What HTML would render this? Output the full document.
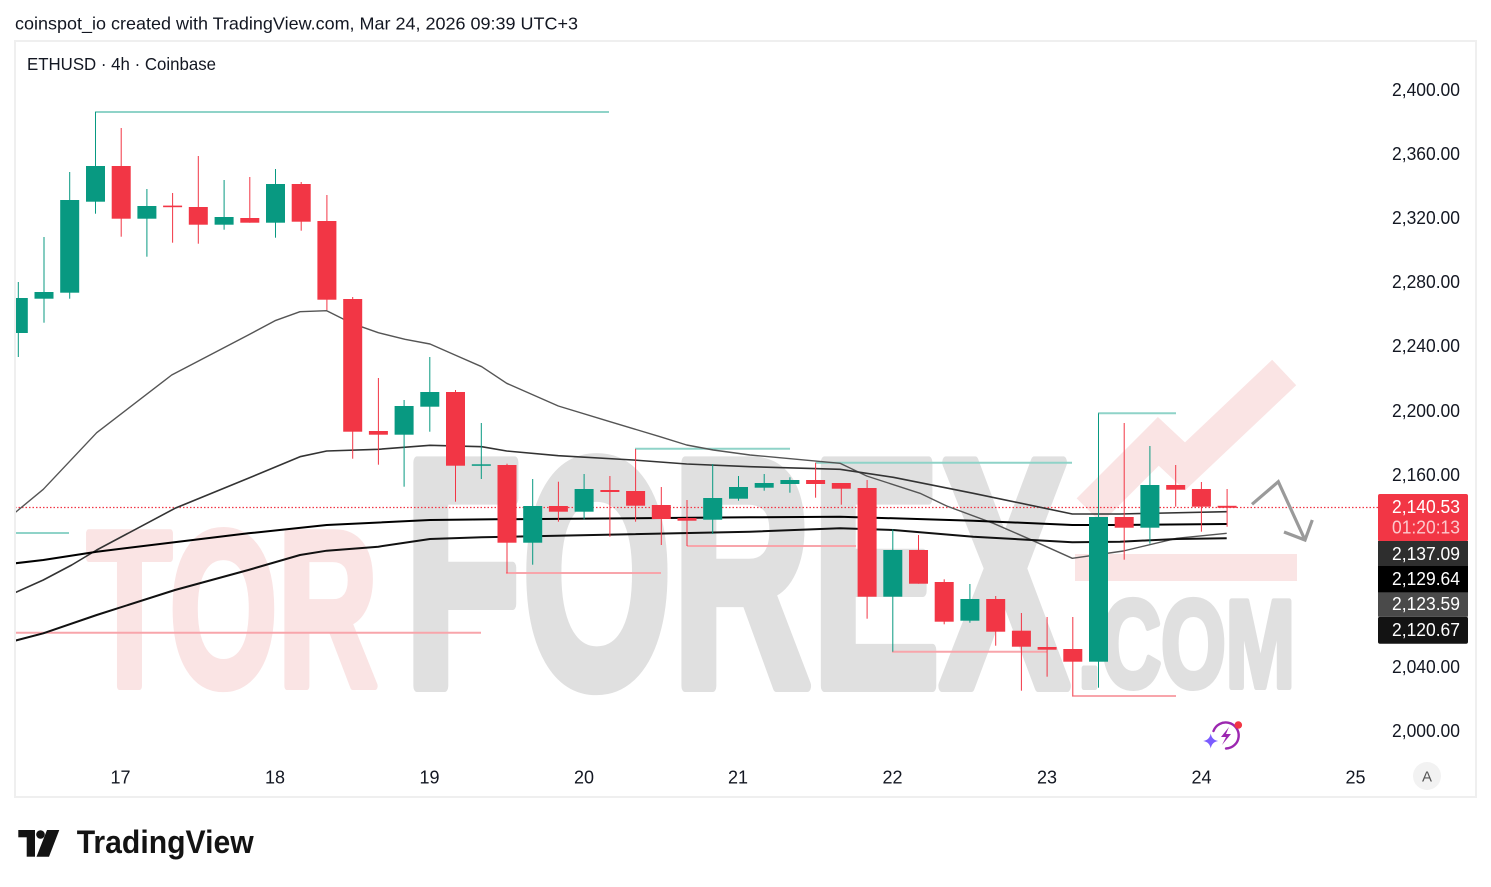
<!DOCTYPE html>
<html><head><meta charset="utf-8"><style>
html,body{margin:0;padding:0;background:#fff;}
svg{display:block;}
text{font-family:"Liberation Sans",Arial,sans-serif;}
</style></head><body>
<svg width="1491" height="887" viewBox="0 0 1491 887" xmlns="http://www.w3.org/2000/svg">
<rect x="0" y="0" width="1491" height="887" fill="#fff"/>
<text x="15" y="29.3" font-size="17.5" fill="#131722" textLength="563" lengthAdjust="spacingAndGlyphs">coinspot_io created with TradingView.com, Mar 24, 2026 09:39 UTC+3</text>
<rect x="15" y="41" width="1461" height="756" fill="#fff" stroke="#efefef" stroke-width="2"/>
<text x="27" y="70" font-size="17.5" fill="#131722" textLength="189" lengthAdjust="spacingAndGlyphs">ETHUSD · 4h · Coinbase</text>

<defs><clipPath id="cp"><rect x="16" y="42" width="1362" height="712"/></clipPath></defs>
<g clip-path="url(#cp)">
<!-- watermark -->
<text x="87" y="686" font-size="222" font-weight="bold" fill="#fae4e4" stroke="#fae4e4" stroke-width="8" stroke-linejoin="round" textLength="291" lengthAdjust="spacingAndGlyphs">TOR</text>
<text x="404" y="686" font-size="325" font-weight="bold" fill="#e0e0e0" stroke="#e0e0e0" stroke-width="12" stroke-linejoin="round" textLength="665" lengthAdjust="spacingAndGlyphs">FOREX</text>
<text x="1078" y="687" font-size="124" font-weight="bold" fill="#e0e0e0" stroke="#e0e0e0" stroke-width="6" stroke-linejoin="round" textLength="217" lengthAdjust="spacingAndGlyphs">.COM</text>
<rect x="1075" y="554" width="222" height="27" fill="#fae4e4"/>
<polyline points="1089,510.7 1158.3,441.4 1185,466.4 1284.2,372.5" fill="none" stroke="#fae4e4" stroke-width="35" stroke-linejoin="miter"/>

<!-- level lines -->
<g stroke-width="2" fill="none">
<line x1="95" y1="112" x2="609" y2="112" stroke="#8fd3c8"/>
<line x1="15" y1="533" x2="69" y2="533" stroke="#8fd3c8"/>
<line x1="15" y1="632.7" x2="481" y2="632.7" stroke="#f8a5ab"/>
<line x1="506" y1="573" x2="661" y2="573" stroke="#f8a5ab"/>
<line x1="635" y1="448.7" x2="790" y2="448.7" stroke="#8fd3c8"/>
<line x1="687" y1="546" x2="856" y2="546" stroke="#f8a5ab"/>
<line x1="815.6" y1="462.7" x2="1072" y2="462.7" stroke="#8fd3c8"/>
<line x1="892" y1="651.7" x2="1047" y2="651.7" stroke="#f8a5ab"/>
<line x1="1098" y1="413.3" x2="1176" y2="413.3" stroke="#8fd3c8"/>
<line x1="1072" y1="696" x2="1176" y2="696" stroke="#f8a5ab"/>
</g>

<!-- dotted price line -->
<line x1="15" y1="507.5" x2="1378" y2="507.5" stroke="#f23645" stroke-width="1.2" stroke-dasharray="1.5 2"/>

<!-- MA lines -->
<g fill="none" stroke-linejoin="round">
<polyline stroke="#555" stroke-width="1.4" points="15,512.7 43.3,489.3 96.7,432.7 171.7,375 248.3,335 275,320.7 300,311.7 326.7,310.7 351.7,323.3 378.3,332.7 405,339.3 430,344 455,355 481.7,366.7 506.7,383.3 558.3,406 610,421.7 660,436.7 686.7,445 713.3,450 750,455 840,463.3 866.7,476 920,493.3 946.7,506 993.3,523.3 1030,539.3 1072.3,558.3 1123.3,551 1176.7,538.3 1226.7,533.3"/>
<polyline stroke="#333" stroke-width="1.6" points="15,592.7 43.3,580 71.7,565 96.7,550 175,508.3 248.3,478.3 300,456.7 326.7,451 378.3,449.3 430,445.3 481.7,446.7 506.7,451 558.3,455.7 633.3,460 686.7,464 750,466.7 840,469.3 893.3,477.3 973.3,493.3 1072.3,514 1120,514 1226.7,511.7"/>
<polyline stroke="#000" stroke-width="2" points="15,563.3 43.3,560 96.7,551.7 248.3,533.3 326.7,525 430,520 495,519.3 750,517.3 840,516.7 973.3,520.7 1072.3,525 1120,525 1226.7,524"/>
<polyline stroke="#111" stroke-width="2" points="15,640.7 43.3,633.3 96.7,615 175,590 248.3,570 300,555 326.7,550.7 378.3,546.7 430,539 481.7,537.3 750,531.7 840,528.3 893.3,530 973.3,536.7 1072.3,542.3 1120,541.7 1176.7,539 1226.7,538.3"/>
</g>

<!-- candles -->
<g fill="#089981">
<rect x="17.8" y="282" width="1" height="75"/><rect x="8.8" y="298" width="19" height="35"/>
<rect x="43.5" y="237" width="1" height="85.7"/><rect x="34.5" y="292" width="19" height="6.7"/>
<rect x="69.2" y="172" width="1" height="126.7"/><rect x="60.2" y="200" width="19" height="92.7"/>
<rect x="95" y="112" width="1" height="101.7"/><rect x="86" y="166" width="19" height="35.7"/>
<rect x="146.4" y="189" width="1" height="67.7"/><rect x="137.4" y="206" width="19" height="12.7"/>
<rect x="223.6" y="180" width="1" height="49.7"/><rect x="214.6" y="217" width="19" height="7.7"/>
<rect x="275" y="169" width="1" height="68.7"/><rect x="266" y="184" width="19" height="38.7"/>
<rect x="403.6" y="400" width="1" height="86.7"/><rect x="394.6" y="406" width="19" height="28.7"/>
<rect x="429.3" y="357" width="1" height="74.7"/><rect x="420.3" y="392" width="19" height="14.7"/>
<rect x="480.8" y="423" width="1" height="56"/><rect x="471.8" y="464.3" width="19" height="1.5"/>
<rect x="532.2" y="479" width="1" height="85.7"/><rect x="523.2" y="506" width="19" height="36.7"/>
<rect x="583.6" y="474" width="1" height="45.3"/><rect x="574.6" y="489" width="19" height="22.7"/>
<rect x="712.2" y="464" width="1" height="70"/><rect x="703.2" y="498" width="19" height="21.7"/>
<rect x="738" y="476" width="1" height="24.7"/><rect x="729" y="487" width="19" height="11.7"/>
<rect x="763.7" y="474" width="1" height="16.7"/><rect x="754.7" y="483" width="19" height="4.7"/>
<rect x="789.4" y="477.3" width="1" height="15.4"/><rect x="780.4" y="480" width="19" height="4"/>
<rect x="892.3" y="529.3" width="1" height="122.4"/><rect x="883.3" y="550" width="19" height="46.7"/>
<rect x="969.4" y="584" width="1" height="38.7"/><rect x="960.4" y="599" width="19" height="21.7"/>
<rect x="1098" y="413.3" width="1" height="274.4"/><rect x="1089" y="517" width="19" height="144.7"/>
<rect x="1149.4" y="446" width="1" height="97.7"/><rect x="1140.4" y="485" width="19" height="42.7"/>
</g>
<g fill="#f23645">
<rect x="120.7" y="128" width="1" height="108.7"/><rect x="111.7" y="166" width="19" height="52.7"/>
<rect x="172.1" y="193" width="1" height="49.7"/><rect x="163.1" y="205.6" width="19" height="1.6"/>
<rect x="197.8" y="156" width="1" height="87.7"/><rect x="188.8" y="207" width="19" height="17.7"/>
<rect x="249.3" y="177" width="1" height="45.7"/><rect x="240.3" y="218" width="19" height="4.7"/>
<rect x="300.7" y="182" width="1" height="48.7"/><rect x="291.7" y="184" width="19" height="37.7"/>
<rect x="326.4" y="195" width="1" height="115"/><rect x="317.4" y="221" width="19" height="78.7"/>
<rect x="352.2" y="297" width="1" height="161.7"/><rect x="343.2" y="299" width="19" height="132.7"/>
<rect x="377.9" y="378" width="1" height="86.7"/><rect x="368.9" y="431" width="19" height="3.7"/>
<rect x="455" y="390" width="1" height="111.7"/><rect x="446" y="392" width="19" height="73.7"/>
<rect x="506.5" y="463.7" width="1" height="109.6"/><rect x="497.5" y="465" width="19" height="77.7"/>
<rect x="557.9" y="481.7" width="1" height="40"/><rect x="548.9" y="506" width="19" height="5.7"/>
<rect x="609.4" y="476" width="1" height="60.7"/><rect x="600.4" y="490" width="19" height="2"/>
<rect x="635.1" y="449" width="1" height="72.7"/><rect x="626.1" y="491" width="19" height="14.7"/>
<rect x="660.8" y="487" width="1" height="58"/><rect x="651.8" y="505" width="19" height="14"/>
<rect x="686.5" y="500" width="1" height="46"/><rect x="677.5" y="518" width="19" height="2.7"/>
<rect x="815.1" y="462.7" width="1" height="35"/><rect x="806.1" y="480" width="19" height="4"/>
<rect x="840.8" y="483" width="1" height="21.7"/><rect x="831.8" y="483" width="19" height="5.7"/>
<rect x="866.6" y="480" width="1" height="138.7"/><rect x="857.6" y="488" width="19" height="108.7"/>
<rect x="918" y="535" width="1" height="48.7"/><rect x="909" y="550" width="19" height="33.7"/>
<rect x="943.7" y="579.3" width="1" height="45"/><rect x="934.7" y="582" width="19" height="39.7"/>
<rect x="995.2" y="596" width="1" height="49.7"/><rect x="986.2" y="599" width="19" height="32.7"/>
<rect x="1020.9" y="613" width="1" height="77.7"/><rect x="1011.9" y="630.7" width="19" height="16"/>
<rect x="1046.6" y="617" width="1" height="59.7"/><rect x="1037.6" y="647" width="19" height="2.7"/>
<rect x="1072.3" y="617" width="1" height="78.7"/><rect x="1063.3" y="649" width="19" height="12.7"/>
<rect x="1123.7" y="423" width="1" height="136.7"/><rect x="1114.7" y="517" width="19" height="10.7"/>
<rect x="1175.2" y="465" width="1" height="41.7"/><rect x="1166.2" y="485" width="19" height="4.7"/>
<rect x="1200.9" y="482" width="1" height="49.7"/><rect x="1191.9" y="489" width="19" height="17.7"/>
<rect x="1226.6" y="489" width="1" height="37.7"/><rect x="1217.6" y="505.8" width="19" height="2"/>
</g>

<!-- grey arrow -->
<g fill="none" stroke="#9a9a9a" stroke-width="3.2" stroke-linecap="butt" stroke-linejoin="miter">
<polyline points="1252,504.3 1278.3,481.7 1305,540"/>
<polyline points="1284,532 1305,540 1312.3,520"/>
</g>

<!-- lightning icon -->
<g>
<path d="M1213.5,731 A13,13 0 1 1 1226,748.5" fill="none" stroke="#9c27b0" stroke-width="2.4" stroke-linecap="round"/>
<path d="M1229,727 L1221,737 L1226,737 L1222,745 L1231,734 L1226,734 Z" fill="#9c27b0"/>
<circle cx="1238.3" cy="725" r="3.8" fill="#f23645"/>
<path d="M1210.7,733.5 Q1211.8,740 1218.2,741 Q1211.8,742 1210.7,748.5 Q1209.6,742 1203.2,741 Q1209.6,740 1210.7,733.5 Z" fill="#7b5cff"/>
</g>
</g>

<!-- y axis labels -->
<g font-size="18" fill="#131722" text-anchor="end">
<text x="1460" y="96" textLength="68" lengthAdjust="spacingAndGlyphs">2,400.00</text>
<text x="1460" y="160" textLength="68" lengthAdjust="spacingAndGlyphs">2,360.00</text>
<text x="1460" y="224" textLength="68" lengthAdjust="spacingAndGlyphs">2,320.00</text>
<text x="1460" y="288" textLength="68" lengthAdjust="spacingAndGlyphs">2,280.00</text>
<text x="1460" y="352" textLength="68" lengthAdjust="spacingAndGlyphs">2,240.00</text>
<text x="1460" y="417" textLength="68" lengthAdjust="spacingAndGlyphs">2,200.00</text>
<text x="1460" y="481" textLength="68" lengthAdjust="spacingAndGlyphs">2,160.00</text>
<text x="1460" y="673" textLength="68" lengthAdjust="spacingAndGlyphs">2,040.00</text>
<text x="1460" y="737" textLength="68" lengthAdjust="spacingAndGlyphs">2,000.00</text>
</g>

<!-- price tags -->
<rect x="1378" y="494" width="90" height="47.5" rx="2" fill="#f23645"/>
<rect x="1378" y="541" width="90" height="25.5" fill="#2e2e2e"/>
<rect x="1378" y="566" width="90" height="26.7" fill="#000"/>
<rect x="1378" y="592.7" width="90" height="24" fill="#4a4a4a"/>
<rect x="1378" y="616.7" width="90" height="27" rx="2" fill="#131313"/>
<g font-size="18" text-anchor="end">
<text x="1460" y="513" fill="#fff" textLength="68" lengthAdjust="spacingAndGlyphs">2,140.53</text>
<text x="1460" y="533.5" fill="#fcc9cd" textLength="68" lengthAdjust="spacingAndGlyphs">01:20:13</text>
<text x="1460" y="560" fill="#fff" textLength="68" lengthAdjust="spacingAndGlyphs">2,137.09</text>
<text x="1460" y="585" fill="#fff" textLength="68" lengthAdjust="spacingAndGlyphs">2,129.64</text>
<text x="1460" y="610" fill="#fff" textLength="68" lengthAdjust="spacingAndGlyphs">2,123.59</text>
<text x="1460" y="636" fill="#fff" textLength="68" lengthAdjust="spacingAndGlyphs">2,120.67</text>
</g>

<!-- x axis labels -->
<g font-size="18" fill="#131722" text-anchor="middle">
<text x="120.5" y="783.5">17</text>
<text x="275" y="783.5">18</text>
<text x="429.5" y="783.5">19</text>
<text x="584" y="783.5">20</text>
<text x="738" y="783.5">21</text>
<text x="892.5" y="783.5">22</text>
<text x="1047" y="783.5">23</text>
<text x="1201.5" y="783.5">24</text>
<text x="1355.5" y="783.5">25</text>
</g>
<circle cx="1427" cy="776" r="14" fill="#f2f2f2"/>
<text x="1427" y="781.5" font-size="15" fill="#555" text-anchor="middle">A</text>

<!-- TradingView logo -->
<g fill="#131313">
<rect x="18.3" y="830" width="16.7" height="7.3"/>
<rect x="26.7" y="830" width="8.3" height="26.7"/>
<circle cx="40.5" cy="834.5" r="4.3"/>
<polygon points="47,830 59.3,830 49,856.7 36.5,856.7"/>
</g>
<text x="76.7" y="853" font-size="32" font-weight="bold" fill="#131313" textLength="177" lengthAdjust="spacingAndGlyphs">TradingView</text>
</svg>
</body></html>
